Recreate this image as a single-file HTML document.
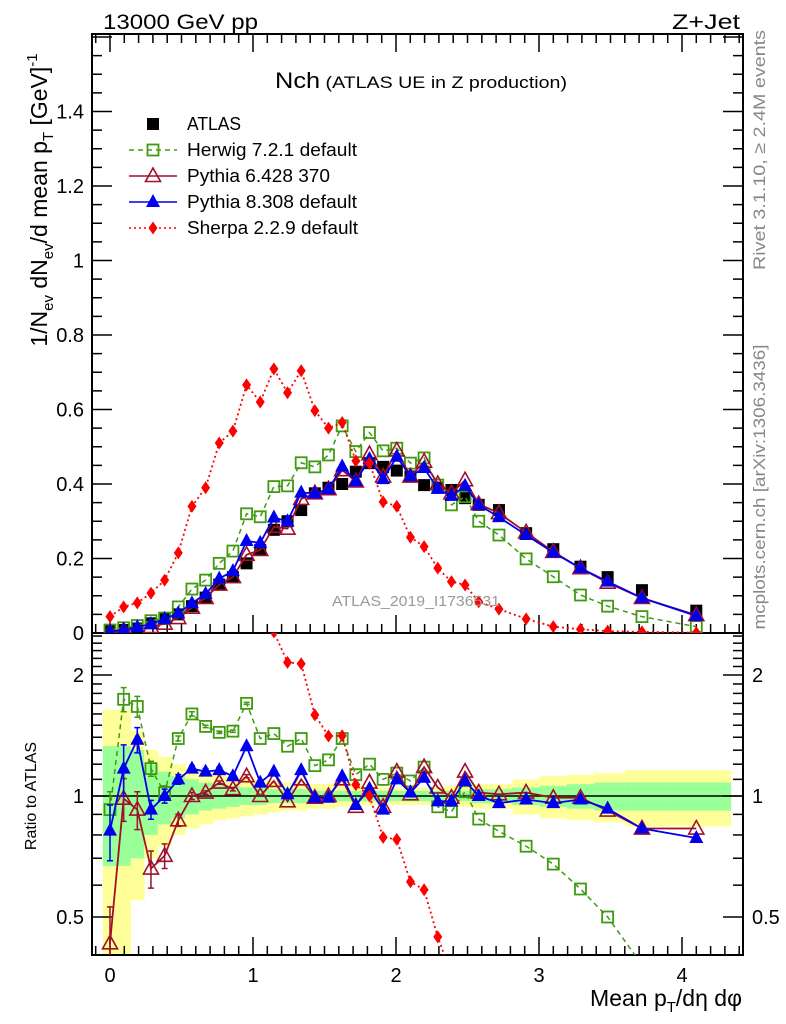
<!DOCTYPE html>
<html><head><meta charset="utf-8"><style>
html,body{margin:0;padding:0;background:#fff;overflow:hidden;width:786px;height:1024px;}
svg{display:block;position:absolute;left:0;top:0;overflow:hidden;font-family:"Liberation Sans",sans-serif;}
</style></head><body>
<svg id="chart" width="786" height="1024" viewBox="0 0 786 1024" xmlns="http://www.w3.org/2000/svg">
<defs>
<clipPath id="clipMain"><rect x="92" y="34" width="651" height="599"/></clipPath>
<clipPath id="clipRatio"><rect x="92" y="633" width="651" height="322"/></clipPath>
</defs>
<g id="bands" clip-path="url(#clipRatio)"></g>
<g id="grid"></g>
<rect x="92" y="34" width="651" height="599" fill="none" stroke="#000" stroke-width="2"/>
<rect x="92" y="633" width="651" height="322" fill="none" stroke="#000" stroke-width="2"/>
<g id="ticks"></g>
<g id="mainSeries" clip-path="url(#clipMain)"></g>
<g id="ratioSeries" clip-path="url(#clipRatio)"></g>
<text x="103" y="29" font-size="21" textLength="155" lengthAdjust="spacingAndGlyphs">13000 GeV pp</text>
<text x="672" y="29" font-size="21" textLength="68" lengthAdjust="spacingAndGlyphs">Z+Jet</text>
<text x="275" y="88" textLength="292" lengthAdjust="spacingAndGlyphs"><tspan font-size="22">Nch</tspan><tspan font-size="17"> (ATLAS UE in Z production)</tspan></text>
<text x="332" y="606" font-size="15" textLength="168" lengthAdjust="spacingAndGlyphs" fill="#999">ATLAS_2019_I1736531</text>
<text transform="translate(765,150) rotate(-90)" text-anchor="middle" font-size="17" textLength="240" lengthAdjust="spacingAndGlyphs" fill="#888">Rivet 3.1.10, ≥ 2.4M events</text>
<text transform="translate(765,487) rotate(-90)" text-anchor="middle" font-size="17" textLength="285" lengthAdjust="spacingAndGlyphs" fill="#888">mcplots.cern.ch [arXiv:1306.3436]</text>
<text transform="translate(47,200) rotate(-90)" text-anchor="middle" font-size="23">1/N<tspan font-size="15" dy="6">ev</tspan><tspan dy="-6"> dN</tspan><tspan font-size="15" dy="6">ev</tspan><tspan dy="-6">/d mean p</tspan><tspan font-size="15" dy="6">T</tspan><tspan dy="-6"> [GeV]</tspan><tspan font-size="15" dy="-10">-1</tspan></text>
<text transform="translate(36,796) rotate(-90)" text-anchor="middle" font-size="16">Ratio to ATLAS</text>
<text x="742" y="1006" text-anchor="end" font-size="23">Mean p<tspan font-size="15" dy="6">T</tspan><tspan dy="-6">/dη dφ</tspan></text>
<g id="legend"></g>
</svg>
<script>
const xVals=[0,0.0955,0.191,0.2865,0.382,0.4775,0.573,0.6685,0.764,0.8595,0.955,1.0505,1.146,1.2415,1.337,1.4325,1.528,1.6235,1.719,1.8145,1.91,2.0055,2.101,2.1965,2.292,2.3875,2.483,2.5785,2.72,2.91,3.1,3.29,3.48,3.72,4.1];
const atlasVals=[0.005,0.008,0.012,0.026,0.038,0.05,0.072,0.095,0.13,0.15,0.187,0.223,0.277,0.30,0.33,0.375,0.39,0.40,0.433,0.456,0.446,0.436,0.42,0.397,0.39,0.384,0.362,0.344,0.33,0.268,0.225,0.178,0.150,0.115,0.06];
const herwigVals=[0.008,0.014,0.02,0.033,0.04,0.07,0.118,0.142,0.187,0.22,0.32,0.312,0.393,0.395,0.457,0.446,0.478,0.556,0.487,0.538,0.489,0.496,0.456,0.47,0.397,0.344,0.366,0.30,0.263,0.199,0.151,0.102,0.072,0.044,0.017];
const py6Vals=[0.002,0.006,0.01,0.016,0.025,0.04,0.068,0.094,0.13,0.15,0.21,0.223,0.285,0.28,0.36,0.375,0.386,0.437,0.407,0.48,0.42,0.49,0.42,0.46,0.40,0.375,0.41,0.346,0.322,0.27,0.218,0.174,0.135,0.094,0.048];
const py8Vals=[0.004,0.009,0.016,0.024,0.038,0.053,0.08,0.105,0.146,0.166,0.247,0.242,0.31,0.30,0.377,0.375,0.386,0.447,0.407,0.467,0.413,0.473,0.421,0.443,0.387,0.368,0.395,0.344,0.311,0.263,0.216,0.174,0.138,0.094,0.046];
const sherpaVals=[0.044,0.07,0.081,0.107,0.142,0.215,0.34,0.39,0.51,0.542,0.666,0.62,0.709,0.645,0.704,0.597,0.55,0.565,0.462,0.456,0.352,0.34,0.257,0.232,0.174,0.138,0.129,0.084,0.064,0.038,0.017,0.01,0.005,0.003,0.001];
const herwigRatio=[0.925,1.74,1.67,1.17,1.02,1.39,1.60,1.49,1.44,1.45,1.70,1.39,1.43,1.33,1.39,1.19,1.23,1.39,1.13,1.20,1.10,1.14,1.09,1.18,0.94,0.914,1.025,0.876,0.817,0.75,0.677,0.587,0.50,0.38,0.29];
const py6Ratio=[0.43,0.985,0.925,0.66,0.71,0.87,1.0,1.02,1.08,1.04,1.12,1.0,1.09,0.97,1.10,0.99,1.0,1.10,0.94,1.08,0.94,1.15,1.01,1.18,1.05,0.99,1.15,1.02,1.01,1.02,0.99,0.99,0.92,0.83,0.83];
const py8Ratio=[0.82,1.17,1.38,0.925,1.0,1.10,1.17,1.15,1.16,1.12,1.33,1.08,1.15,1.01,1.16,0.99,0.99,1.12,0.95,1.04,0.925,1.10,1.02,1.11,0.97,0.97,1.09,1.0,0.96,0.98,0.96,0.98,0.93,0.83,0.786];
const herwigErr=[0.1,0.12,0.1,0.05,0.04,0.02,0.02,0.01,0.01,0.01,0.01,0,0,0,0,0,0,0,0,0,0,0,0,0,0,0,0,0,0,0,0,0,0,0,0];
const py6Err=[0.1,0.12,0.1,0.07,0.05,0.03,0.02,0.01,0.01,0.01,0.01,0,0,0,0,0,0,0,0,0,0,0,0,0,0,0,0,0,0,0,0,0,0,0,0];
const py8Err=[0.13,0.17,0.1,0.05,0.04,0.03,0.02,0.02,0.02,0.02,0.015,0,0,0,0,0,0,0,0,0,0,0,0,0,0,0,0,0,0,0,0,0,0,0,0];
const bandTot=[0.64,0.64,0.45,0.3,0.25,0.2,0.17,0.15,0.13,0.12,0.11,0.1,0.09,0.08,0.08,0.07,0.07,0.06,0.06,0.05,0.05,0.05,0.05,0.05,0.05,0.06,0.06,0.07,0.07,0.1,0.12,0.13,0.14,0.16,0.16];
const bandStat=[0.33,0.33,0.3,0.2,0.15,0.12,0.1,0.08,0.07,0.06,0.05,0.05,0.04,0.04,0.04,0.03,0.03,0.03,0.03,0.03,0.03,0.03,0.03,0.03,0.03,0.03,0.03,0.04,0.04,0.05,0.06,0.07,0.08,0.08,0.08];
const mainTicks=[0,0.2,0.4,0.6,0.8,1,1.2,1.4];
const ratioTicks=[0.5,1,2];
const xTicks=[0,1,2,3,4];

const NS="http://www.w3.org/2000/svg";
const X=v=>110+143*v, Y=v=>633-372.5*v, R=r=>796-121*Math.log2(r);
function mk(tag,attrs,parent){const e=document.createElementNS(NS,tag);for(const k in attrs)e.setAttribute(k,attrs[k]);parent.appendChild(e);return e;}
const ticks=document.getElementById('ticks');
for(let v=-0.1;v<=4.41;v+=0.1){const vv=Math.round(v*10)/10;const major=Math.abs(vv-Math.round(vv))<1e-6;const L=major?18:9;
 for(const [y0,dir] of [[633,-1],[34,1],[955,-1]]){const t=mk('line',{x1:X(vv),x2:X(vv),y1:y0,y2:y0+dir*L,stroke:'#000','stroke-width':1.5},ticks);
 
 }}
xTicks.forEach(v=>{const t=mk('text',{x:X(v),y:982,'text-anchor':'middle','font-size':20},ticks);t.textContent=v;
 
 });
for(let i=0;i<=32;i++){const v=i*0.05;if(v>1.6)break;const major=i%4===0;const L=major?20:10;
 for(const [x0,dir] of [[92,1],[743,-1]]){const t=mk('line',{x1:x0,x2:x0+dir*L,y1:Y(v),y2:Y(v),stroke:'#000','stroke-width':1.5},ticks);
 
 }}
mainTicks.forEach(v=>{const t=mk('text',{x:84,y:Y(v)+7,'text-anchor':'end','font-size':20},ticks);t.textContent=v;
 
 });
[0.4,0.5,0.6,0.7,0.8,0.9,1,1.1,1.2,1.3,1.4,1.5,1.6,1.7,1.8,1.9,2,2.1,2.2,2.3,2.4,2.5].forEach(v=>{const major=ratioTicks.includes(v);const L=major?20:10;const y=R(v);if(y<633||y>955)return;
 for(const [x0,dir] of [[92,1],[743,-1]]){const t=mk('line',{x1:x0,x2:x0+dir*L,y1:y,y2:y,stroke:'#000','stroke-width':1.5},ticks);
 
 }});
ratioTicks.forEach(v=>{for(const [x,a] of [[84,'end'],[752,'start']]){const t=mk('text',{x:x,y:R(v)+7,'text-anchor':a,'font-size':20},ticks);t.textContent=v;
 
 }});
const bands=document.getElementById('bands');
function edges(i){const l=i===0?-0.05:(xVals[i-1]+xVals[i])/2;const r=i===xVals.length-1?4.34:(xVals[i]+xVals[i+1])/2;return [X(l),X(r)];}
xVals.forEach((x,i)=>{const [a,b]=edges(i);
 const y1=R(1+bandTot[i]),y2=R(Math.max(0.05,1-bandTot[i]));
 const e=mk('rect',{x:a,y:y1,width:b-a+0.5,height:y2-y1,fill:'#ffff99'},bands);
 
 
 const g1=R(1+bandStat[i]),g2=R(1-bandStat[i]);
 const g=mk('rect',{x:a,y:g1,width:b-a+0.5,height:g2-g1,fill:'#99ff99'},bands);
 
 });
const one=mk('line',{x1:92,x2:743,y1:R(1),y2:R(1),stroke:'#000','stroke-width':1.5},document.getElementById('ratioSeries'));


function marker(type,cx,cy,color,parent){
 if(type==='fsq')return mk('rect',{x:cx-6,y:cy-6,width:12,height:12,fill:'#000'},parent);
 if(type==='osq')return mk('rect',{x:cx-5.5,y:cy-5.5,width:11,height:11,fill:'none',stroke:color,'stroke-width':1.8},parent);
 if(type==='otri')return mk('polygon',{points:`${cx},${cy-8} ${cx-7.5},${cy+5.5} ${cx+7.5},${cy+5.5}`,fill:'none',stroke:color,'stroke-width':1.6},parent);
 if(type==='ftri')return mk('polygon',{points:`${cx},${cy-8} ${cx-7},${cy+5} ${cx+7},${cy+5}`,fill:color},parent);
 if(type==='dia')return mk('polygon',{points:`${cx},${cy-6.5} ${cx-4.5},${cy} ${cx},${cy+6.5} ${cx+4.5},${cy}`,fill:color},parent);
}
const series=[
 {name:'herwig',vals:herwigVals,ratio:herwigRatio,err:herwigErr,color:'#3f9a10',dash:'5,4',m:'osq',w:1.5},
 {name:'pythia6',vals:py6Vals,ratio:py6Ratio,err:py6Err,color:'#a0102a',dash:'',m:'otri',w:1.8},
 {name:'pythia8',vals:py8Vals,ratio:py8Ratio,err:py8Err,color:'#0000ee',dash:'',m:'ftri',w:1.8},
 {name:'sherpa',vals:sherpaVals,ratio:null,err:null,color:'#ff0000',dash:'2,3',m:'dia',w:1.8}
];
const mainG=document.getElementById('mainSeries'), ratG=document.getElementById('ratioSeries');
atlasVals.forEach((v,i)=>{const e=marker('fsq',X(xVals[i]),Y(v),'#000',mainG);
 
 });
series.forEach(s=>{
 const rat=s.ratio?s.ratio:s.vals.map((v,i)=>v/atlasVals[i]);
 const pm=mk('polyline',{points:s.vals.map((v,i)=>X(xVals[i])+','+Y(v)).join(' '),fill:'none',stroke:s.color,'stroke-width':s.w,'stroke-dasharray':s.dash},mainG);
 
 
 const pr=mk('polyline',{points:rat.map((v,i)=>X(xVals[i])+','+R(v)).join(' '),fill:'none',stroke:s.color,'stroke-width':s.w,'stroke-dasharray':s.dash},ratG);
 
 
 s.vals.forEach((v,i)=>{const e=marker(s.m,X(xVals[i]),Y(v),s.color,mainG);
  
  });
 rat.forEach((v,i)=>{
  if(s.err&&s.err[i]>0){const x=X(xVals[i]);const eb=mk('path',{d:`M${x},${R(v+s.err[i])}V${R(v-s.err[i])}M${x-3},${R(v+s.err[i])}h6M${x-3},${R(v-s.err[i])}h6`,stroke:s.color,'stroke-width':1.5,fill:'none'},ratG);
   
   }
  const e=marker(s.m,X(xVals[i]),R(v),s.color,ratG);
  
  });
});
const leg=document.getElementById('legend');
const legItems=[['ATLAS','fsq','#000','',54],['Herwig 7.2.1 default','osq','#3f9a10','5,4',170],['Pythia 6.428 370','otri','#a0102a','',143],['Pythia 8.308 default','ftri','#0000ee','',170],['Sherpa 2.2.9 default','dia','#ff0000','2,3',171]];
legItems.forEach((it,i)=>{const y=124+i*26;
 if(i>0){const l=mk('line',{x1:129,x2:177,y1:y,y2:y,stroke:it[2],'stroke-width':1.5,'stroke-dasharray':it[3]},leg);
  
  }
 const m=marker(it[1],153,y,it[2],leg);
 
 
 const t=mk('text',{x:187,y:y+6,'font-size':18,textLength:it[4],lengthAdjust:'spacingAndGlyphs'},leg);t.textContent=it[0];
 
 });
</script>
</body></html>
